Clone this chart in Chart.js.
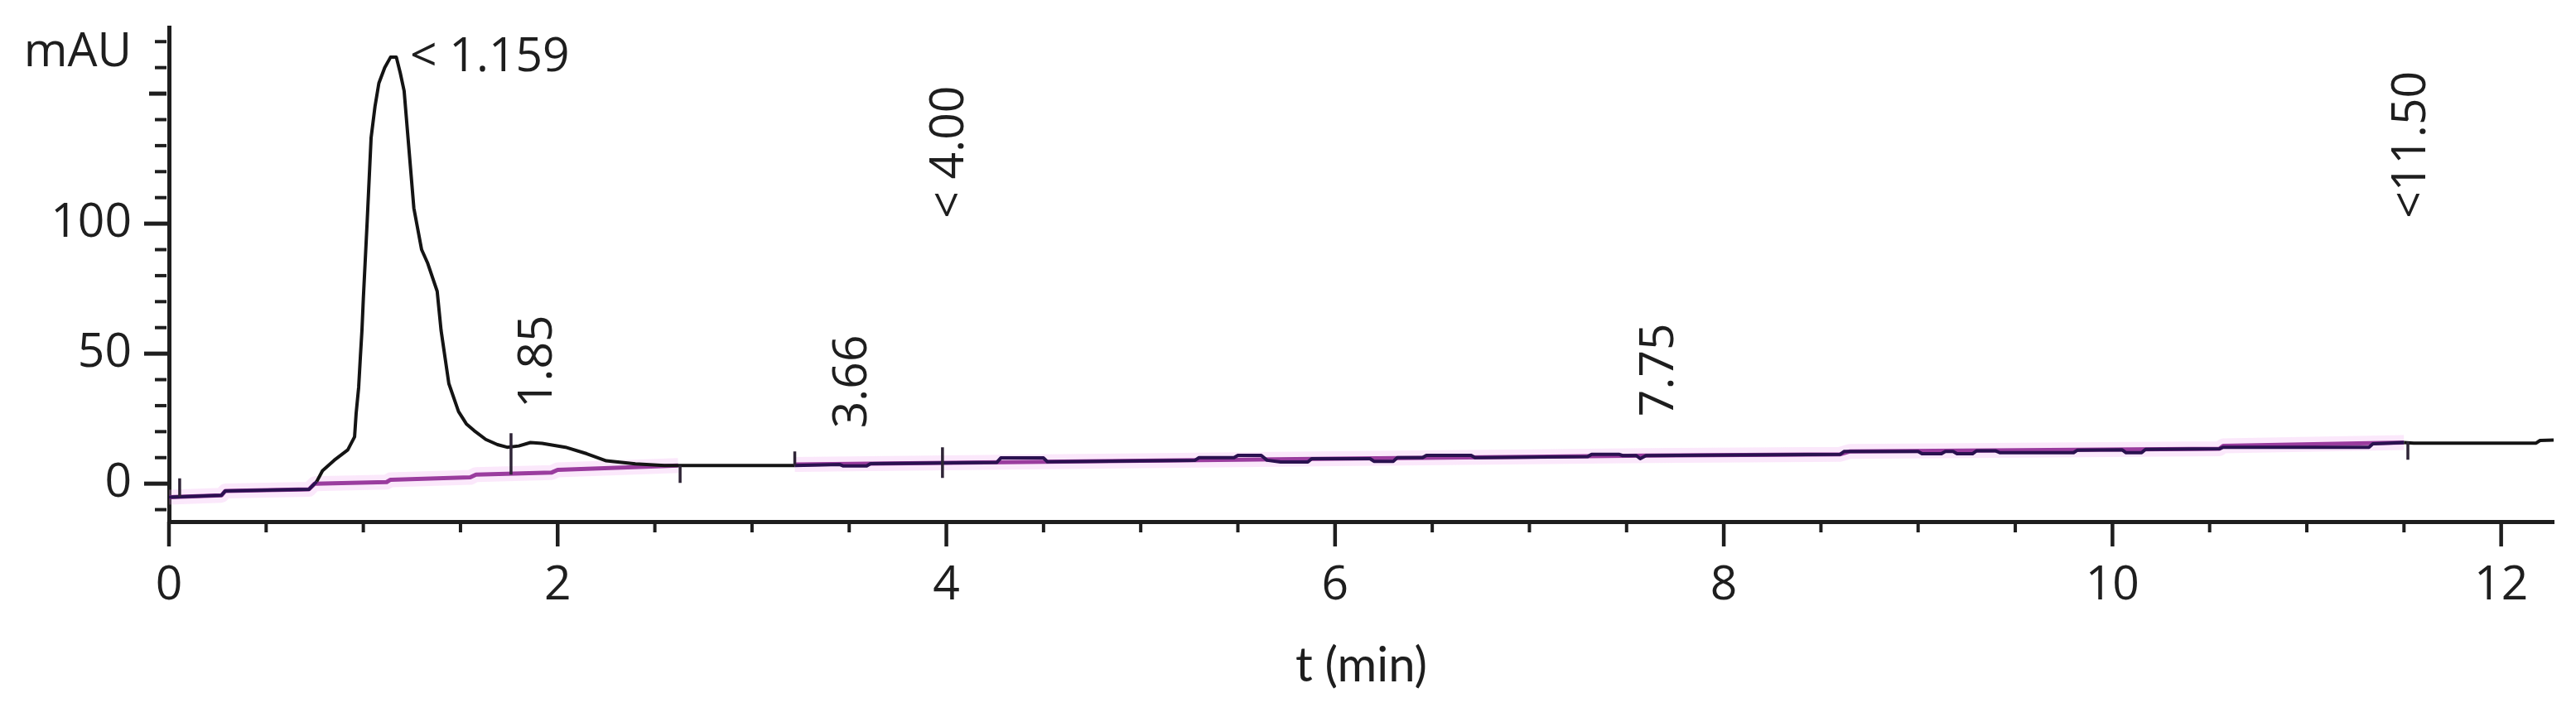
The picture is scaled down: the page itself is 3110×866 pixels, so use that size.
<!DOCTYPE html>
<html>
<head>
<meta charset="utf-8">
<script src="https://cdn.jsdelivr.net/npm/chart.js@4/dist/chart.umd.min.js"></script>
<style>
  html, body { margin: 0; padding: 0; background: #fff; }
  #chart { display: block; }
</style>
</head>
<body>
<canvas id="chart" width="3110" height="866"></canvas>
<script>
// detector trace: retention time (min) / absorbance (mAU)
const sigT = [
  0, 0.27, 0.29, 0.72, 0.76, 0.79, 0.85, 0.92, 0.955, 0.963,
  0.976, 0.985, 0.993, 1.0, 1.02, 1.04, 1.06, 1.08, 1.11, 1.14,
  1.17, 1.19, 1.21, 1.23, 1.26, 1.30, 1.33, 1.38, 1.40, 1.44,
  1.49, 1.53, 1.57, 1.63, 1.69, 1.74, 1.80, 1.86, 1.92, 2.04,
  2.15, 2.25, 2.40, 2.55, 3.22, 3.45, 3.47, 3.59, 3.61, 4.26,
  4.28, 4.50, 4.52, 5.28, 5.30, 5.48, 5.50, 5.62, 5.65, 5.72,
  5.86, 5.88, 6.18, 6.20, 6.30, 6.32, 6.45, 6.47, 6.70, 6.72,
  7.30, 7.32, 7.46, 7.48, 7.55, 7.57, 7.60, 8.60, 8.62, 9.00,
  9.02, 9.12, 9.14, 9.18, 9.20, 9.28, 9.30, 9.40, 9.42, 9.80,
  9.82, 10.05, 10.07, 10.15, 10.17, 10.55, 10.57, 11.32, 11.34, 11.50,
  11.55, 12.18, 12.20, 12.27
];
const sigV = [
  -5.2, -4.5, -2.8, -2.2, 0.8, 5.0, 9.0, 13, 18, 27,
  37, 49, 59, 71, 101, 133, 145, 154, 160, 164,
  164, 158, 151, 133, 106, 90, 85, 74, 59, 38.5,
  27.7, 23, 20.4, 17, 15, 14, 14.5, 15.8, 15.5, 14,
  11.5, 8.8, 7.6, 7.0, 7.0, 7.4, 6.8, 6.8, 7.7, 8.2,
  9.9, 9.9, 8.4, 9.0, 10.0, 10.0, 10.9, 10.9, 9.0, 8.3,
  8.3, 9.6, 9.6, 8.6, 8.6, 10.0, 10.0, 10.9, 10.9, 10.0,
  10.4, 11.3, 11.3, 10.8, 10.8, 9.6, 10.8, 11.3, 12.4, 12.4,
  11.5, 11.5, 12.4, 12.4, 11.5, 11.5, 12.6, 12.6, 11.9, 11.9,
  12.9, 13.0, 11.9, 11.9, 13.2, 13.4, 14.0, 14.0, 15.3, 15.8,
  15.6, 15.6, 16.6, 16.8
];

// integration baseline (null = gap)
const baseT = [0, 0.27, 0.29, 0.72, 0.75, 1.12, 1.14, 1.55, 1.58, 1.97, 2.0, 2.45, 2.62, 2.9, 3.22, 4.0, 5.0, 6.0, 7.0, 7.6, 8.6, 8.65, 10.55, 10.57, 11.5];
const baseV = [-5.2, -4.5, -2.8, -2.2, 0.0, 0.6, 1.5, 2.4, 3.5, 4.3, 5.3, 6.5, 7.0, null, 7.4, 8.0, 8.8, 9.6, 10.3, 10.8, 11.3, 12.4, 13.4, 14.5, 15.8];

// integration event ticks: time, low end, high end (mAU)
const evtT = [0.055, 1.76, 2.63, 3.22, 3.98, 11.52];
const evtLo = [-5, 3.5, 0.3, 7, 2.2, 9.2];
const evtHi = [2, 19.4, 7, 12.4, 14, 16.2];

// peak annotations, anchored at (t, mAU)
const peakLabels = ["< 1.159", "1.85", "3.66", "< 4.00", "7.75", "<11.50"];
const labelT = [1.24, 1.90, 3.52, 4.02, 7.67, 11.54];
const labelV = [163.7, 29, 21.3, 102, 25.8, 102];

// axis ticks
const xTicks = [0, 0.5, 1, 1.5, 2, 2.5, 3, 3.5, 4, 4.5, 5, 5.5, 6, 6.5, 7, 7.5, 8, 8.5, 9, 9.5, 10, 10.5, 11, 11.5, 12];
const xLabels = [0, 2, 4, 6, 8, 10, 12];
const yTicks = [-10, 0, 10, 20, 30, 40, 50, 60, 70, 80, 90, 100, 110, 120, 130, 140, 150, 160, 170];
const yLabels = [0, 50, 100];

const INK = "#1e1e1e";
const FONT = "'Open Sans'";

const pts = (xs, ys) => xs.map((x, i) => ({ x, y: ys[i] }));
const evtPts = [];
evtT.forEach((t, i) => {
  evtPts.push({ x: t, y: evtLo[i] }, { x: t, y: evtHi[i] }, { x: t, y: null });
});

// tick marks, unit and peak labels
const marks = {
  id: "marks",
  afterDraw(chart) {
    const { ctx, chartArea: a, scales: { x, y } } = chart;
    ctx.save();
    ctx.strokeStyle = INK;
    x.ticks.forEach((t) => {
      const px = x.getPixelForValue(t.value);
      const major = xLabels.includes(t.value);
      ctx.lineWidth = major ? 4.5 : 4;
      ctx.beginPath();
      ctx.moveTo(px, a.bottom);
      ctx.lineTo(px, a.bottom + (major ? 30 : 13));
      ctx.stroke();
    });
    y.ticks.forEach((t) => {
      const py = y.getPixelForValue(t.value);
      const major = yLabels.includes(t.value);
      const len = major ? 30 : t.value === 150 ? 24 : 17;
      ctx.lineWidth = major || t.value === 150 ? 5 : 4;
      ctx.beginPath();
      ctx.moveTo(a.left - len, py);
      ctx.lineTo(major ? a.left : a.left - 3, py);
      ctx.stroke();
    });

    ctx.fillStyle = INK;
    ctx.font = "57px " + FONT;
    ctx.textAlign = "right";
    ctx.textBaseline = "middle";
    ctx.fillText("mAU", a.left - 45, a.top + 31);

    ctx.textAlign = "left";
    peakLabels.forEach((s, i) => {
      const px = x.getPixelForValue(labelT[i]);
      const py = y.getPixelForValue(labelV[i]);
      ctx.save();
      ctx.translate(px, py);
      if (i > 0) ctx.rotate(-Math.PI / 2);
      ctx.fillText(s, 0, 0);
      ctx.restore();
    });
    ctx.restore();
  }
};

const onBaseline = (x) => x < 0.74 || (x >= 3.22 && x < 11.5);

new Chart(document.getElementById("chart"), {
  type: "line",
  data: {
    datasets: [
      { data: evtPts, borderColor: "#2e2436", borderWidth: 3.5, pointRadius: 0, order: 1 },
      {
        data: pts(sigT, sigV), borderColor: "#141414", borderWidth: 4, pointRadius: 0, order: 2,
        segment: { borderColor: (c) => (onBaseline(c.p0.parsed.x) ? "#2a1150" : "#141414") }
      },
      { data: pts(baseT, baseV), borderColor: "#9a3c9e", borderWidth: 5, pointRadius: 0, order: 3 },
      { data: pts(baseT, baseV), borderColor: "rgba(238,165,238,0.25)", borderWidth: 18, pointRadius: 0, order: 4 }
    ]
  },
  options: {
    responsive: false,
    animation: false,
    events: [],
    layout: { padding: { top: 33, right: 27, bottom: 0, left: 0 } },
    plugins: { legend: { display: false }, tooltip: { enabled: false } },
    elements: { line: { tension: 0, borderCapStyle: "butt", borderJoinStyle: "round" } },
    scales: {
      x: {
        type: "linear", min: 0, max: 12.27,
        grid: { display: false, drawTicks: false },
        border: { display: true, color: INK, width: 5 },
        afterBuildTicks: (s) => { s.ticks = xTicks.map((v) => ({ value: v })); },
        ticks: {
          autoSkip: false, maxRotation: 0, padding: 44,
          color: INK, font: { family: "Open Sans", size: 57 },
          callback: (v) => (xLabels.includes(v) ? String(v) : "")
        },
        title: {
          display: true, text: "t (min)", color: INK,
          font: { family: "Lato", size: 58 }, padding: { top: 0, bottom: 27 }
        },
        afterFit: (s) => { s.height = 236; s.paddingLeft = 0; s.paddingRight = 0; }
      },
      y: {
        min: -14.6, max: 175.5,
        grid: { display: false, drawTicks: false },
        border: { display: true, color: INK, width: 5 },
        afterBuildTicks: (s) => { s.ticks = yTicks.map((v) => ({ value: v })); },
        ticks: {
          autoSkip: false, padding: 45,
          color: INK, font: { family: "Open Sans", size: 57 },
          callback: (v) => (yLabels.includes(v) ? String(v) : "")
        },
        afterFit: (s) => { s.width = 204; s.paddingTop = 0; s.paddingBottom = 0; }
      }
    }
  },
  plugins: [marks]
});
</script>
</body>
</html>
